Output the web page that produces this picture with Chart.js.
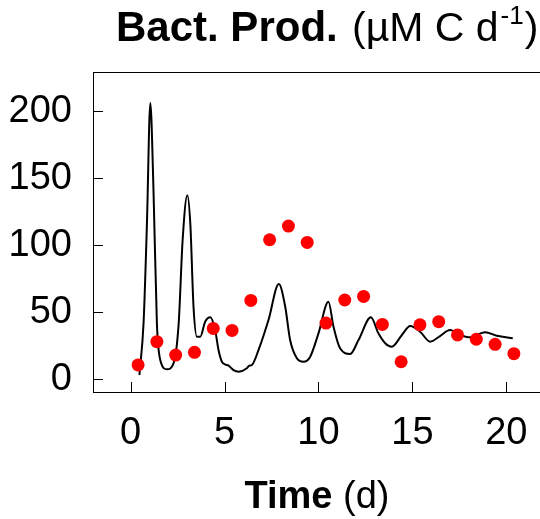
<!DOCTYPE html>
<html>
<head>
<meta charset="utf-8">
<script src="https://cdn.jsdelivr.net/npm/chart.js@4"></script>
<style>
  html, body { margin: 0; padding: 0; background: #fff; overflow: hidden; }
  /* a bit wider than the window: the plot box runs off the right edge like the original */
  #wrap { width: 547px; height: 519px; }
</style>
</head>
<body>
<div id="wrap"><canvas id="chart"></canvas></div>
<script>
// observed bacterial production (red dots)
const obsDay = [0.4, 1.4, 2.4, 3.4, 4.4, 5.4, 6.4, 7.4, 8.4, 9.4, 10.4, 11.4, 12.4, 13.4, 14.4, 15.4, 16.4, 17.4, 18.4, 19.4, 20.4];
const obsProd = [10.7, 28.1, 18.1, 20.1, 38.0, 36.5, 58.9, 104.2, 114.4, 102.2, 42.0, 59.2, 61.9, 41.0, 13.1, 40.7, 43.0, 33.1, 29.9, 26.1, 19.1];

// model output (black line)
const modelDay = [0.47, 0.69, 0.87, 1.05, 1.22, 1.40, 1.58, 1.94, 2.29, 2.56, 2.77, 3.02, 3.18, 3.35, 3.53, 3.71, 3.97, 4.24,
  4.50, 4.68, 4.86, 5.05, 5.21, 5.35, 5.48, 5.75, 6.19, 6.30, 6.46, 6.81, 7.34, 7.89, 8.23, 8.49, 8.85, 9.20, 9.56, 10.0, 10.53,
  10.80, 11.15, 11.69, 12.13, 12.79, 13.19, 13.55, 13.90, 14.44, 14.88, 15.41, 15.94, 16.47, 17.00, 17.53, 18.07, 18.87, 19.49, 20.34];
const modelProd = [3.2, 41.8, 116, 206.4, 141, 41.8, 14.4, 7.5, 12, 41.8, 104, 137.5, 116, 54, 31.8, 31.8, 43, 46.3,
  36.8, 21.9, 13.1, 11.0, 10.2, 8.5, 6.9, 5.7, 8.2, 10.0, 10.7, 21.9, 44.3, 71.1, 54.2, 29.3, 15.7, 13.1, 16.9, 34.3, 57.9,
  39.3, 23.1, 18.9, 29.3, 46.3, 34.3, 26.9, 24.3, 33.1, 39.8, 35.5, 28.1, 32.3, 36.8, 33.1, 31.3, 35.1, 32.5, 30.6];

const xTicks = [0, 5, 10, 15, 20];
const yTicks = [0, 50, 100, 150, 200];

const FONT = "'Liberation Sans', Arial, Helvetica, sans-serif";

// inward tick marks + top frame line
const frame = {
  id: 'frame',
  afterDraw(chart) {
    const { ctx, chartArea, scales } = chart;
    ctx.save();
    ctx.strokeStyle = '#000';
    ctx.lineWidth = 1;
    ctx.beginPath();
    ctx.moveTo(chartArea.left, chartArea.top + 0.5);
    ctx.lineTo(chartArea.right, chartArea.top + 0.5);
    xTicks.forEach(v => {
      const px = Math.round(scales.x.getPixelForValue(v)) + 0.5;
      ctx.moveTo(px, chartArea.bottom);
      ctx.lineTo(px, chartArea.bottom - 10);
    });
    yTicks.forEach(v => {
      const py = Math.round(scales.y.getPixelForValue(v)) + 0.5;
      ctx.moveTo(chartArea.left, py);
      ctx.lineTo(chartArea.left + 10, py);
    });
    ctx.stroke();
    ctx.restore();
  }
};

// title and x-axis title with mixed bold/normal text
const labels = {
  id: 'labels',
  afterDraw(chart) {
    const ctx = chart.ctx;
    ctx.save();
    ctx.fillStyle = '#000';
    ctx.textBaseline = 'alphabetic';
    ctx.textAlign = 'left';

    // title
    const y = 41;
    ctx.font = 'bold 42px ' + FONT;
    ctx.fillText('Bact. Prod.', 116, y);
    ctx.font = '41px ' + FONT;
    let x = 352;
    ctx.fillText('(\u00b5M C d', x, y);
    x += ctx.measureText('(\u00b5M C d').width + 2;
    ctx.font = '26px ' + FONT;
    ctx.fillText('-1', x, y - 17);
    x += ctx.measureText('-1').width + 1;
    ctx.font = '41px ' + FONT;
    ctx.fillText(')', x, y);

    // x-axis title
    ctx.font = 'bold 38px ' + FONT;
    const w1 = ctx.measureText('Time ').width;
    ctx.font = '38px ' + FONT;
    const w2 = ctx.measureText('(d)').width;
    const cx = 317 - (w1 + w2) / 2;
    ctx.font = 'bold 38px ' + FONT;
    ctx.fillText('Time', cx, 508);
    ctx.font = '38px ' + FONT;
    ctx.fillText('(d)', cx + w1, 508);
    ctx.restore();
  }
};

new Chart(document.getElementById('chart'), {
  type: 'scatter',
  data: {
    datasets: [
      {
        label: 'Observed',
        data: obsDay.map((d, i) => ({ x: d, y: obsProd[i] })),
        backgroundColor: '#ff0000',
        borderWidth: 0,
        pointRadius: 6.5,
        showLine: false
      },
      {
        label: 'Model',
        data: modelDay.map((d, i) => ({ x: d, y: modelProd[i] })),
        borderColor: '#000',
        borderWidth: 2,
        pointRadius: 0,
        showLine: true,
        cubicInterpolationMode: 'monotone'
      }
    ]
  },
  options: {
    responsive: true,
    maintainAspectRatio: false,
    animation: false,
    layout: { padding: { top: 72, left: 0, right: 0, bottom: 0 } },
    plugins: {
      legend: { display: false },
      tooltip: { enabled: false },
      title: { display: false }
    },
    scales: {
      x: {
        type: 'linear',
        min: -2,
        max: 21.8,
        afterBuildTicks: s => { s.ticks = xTicks.map(v => ({ value: v })); },
        afterFit: s => { s.height = 127; },
        grid: { display: false, drawTicks: false },
        border: { display: true, color: '#000', width: 1 },
        ticks: { color: '#000', padding: 19, maxRotation: 0, font: { family: FONT, size: 38 } }
      },
      y: {
        min: -9.5,
        max: 229.5,
        afterBuildTicks: s => { s.ticks = yTicks.map(v => ({ value: v })); },
        afterFit: s => { s.width = 93; },
        grid: { display: false, drawTicks: false },
        border: { display: true, color: '#000', width: 1 },
        ticks: { color: '#000', padding: 21, font: { family: FONT, size: 38 } }
      }
    }
  },
  plugins: [frame, labels]
});
</script>
</body>
</html>
